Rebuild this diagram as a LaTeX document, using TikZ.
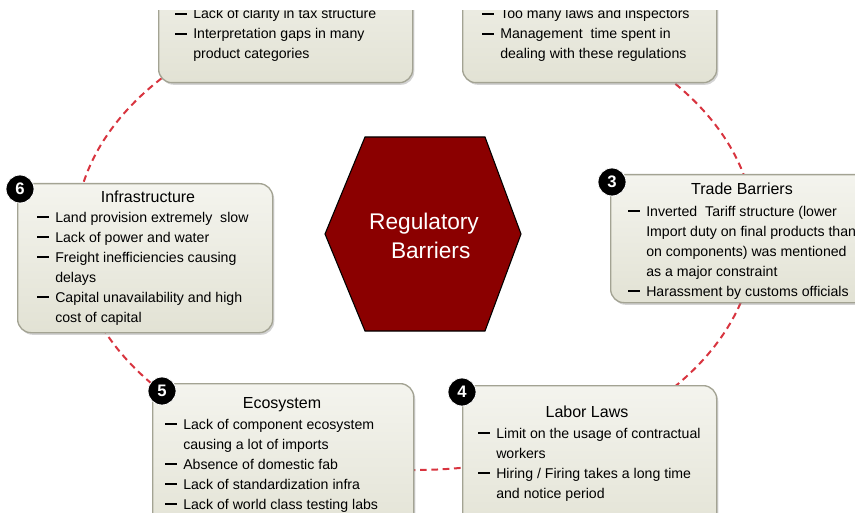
\documentclass[tikz,border=0pt]{standalone}
\usepackage{fontspec}
\setmainfont{Liberation Sans}
\usetikzlibrary{shapes,shadows,positioning,calc}

\definecolor{boxline}{HTML}{A3A393}
\definecolor{boxtop}{HTML}{F4F4EE}
\definecolor{boxbot}{HTML}{E2E2D4}
\definecolor{hubred}{HTML}{8B0000}
\definecolor{ringred}{HTML}{D8343F}

\newcommand{\dashbul}{\rule[2.8pt]{9pt}{1.4pt}}

\tikzset{
  barrier/.style={draw=boxline, line width=1pt, rounded corners=10pt,
    top color=boxtop, bottom color=boxbot, anchor=north west, inner sep=0pt,
    drop shadow={shadow xshift=1.2pt, shadow yshift=-1.6pt, opacity=.35}},
  badge/.style={circle, fill=black, draw=white, line width=.6pt, text=white,
    font=\bfseries\fontsize{12.5}{12}\selectfont, minimum size=21pt, inner sep=0pt},
  heading/.style={anchor=base, inner sep=0pt, font=\fontsize{12}{14}\selectfont},
  points/.style={anchor=base west, inner sep=0pt, font=\fontsize{10.6}{15}\selectfont},
  ring/.style={ellipse, draw=ringred, line width=1.5pt, dash pattern=on 5pt off 3.5pt, inner sep=0pt}
}

\begin{document}
\begin{tikzpicture}[x=0.75pt,y=-0.75pt]
  \useasboundingbox (0,0) rectangle (855,513);
  \clip (0,11) rectangle (855,513);

  % dashed ring behind the boxes
  \node[ring, minimum width=510pt, minimum height=352.5pt] (ringc) at (415,235) {};

  % centre
  \coordinate (h1) at (325,234);
  \coordinate (h2) at (365,137);
  \coordinate (h3) at (485,137);
  \coordinate (h4) at (521,234);
  \coordinate (h5) at (485,331);
  \coordinate (h6) at (365,331);
  \draw[fill=hubred, line width=.8pt] (h1) -- (h2) -- (h3) -- (h4) -- (h5) -- (h6) -- cycle;
  \node[text=white, align=center, font=\fontsize{17}{22}\selectfont] (hub) at (424,236)
    {Regulatory\\\hspace{10pt}Barriers};

  % 1 -- tax
  \node[barrier, minimum width=190.5pt, minimum height=106.5pt] (b1) at (158,-60) {};
  \node[points] (l1) at (175,19) {\begin{tabular}[t]{@{}l@{\hspace{4.5pt}}l@{}}
    \dashbul & Lack of clarity in tax structure\\
    \dashbul & Interpretation gaps in many\\
             & product categories
  \end{tabular}};

  % 2 -- laws
  \node[barrier, minimum width=190.5pt, minimum height=106.5pt] (b2) at (462,-60) {};
  \node[points] (l2) at (482,19) {\begin{tabular}[t]{@{}l@{\hspace{4.5pt}}l@{}}
    \dashbul & Too many laws and inspectors\\
    \dashbul & Management\ \ time spent in\\
             & dealing with these regulations
  \end{tabular}};

  % 3 -- trade
  \node[barrier, minimum width=202.5pt, minimum height=96pt] (b3) at (610,174) {};
  \node[badge] (n3) at (612,182) {3};
  \node[heading] (t3) at (742,195) {Trade Barriers};
  \node[points] (l3) at (628,216) {\begin{tabular}[t]{@{}l@{\hspace{4.5pt}}l@{}}
    \dashbul & Inverted\ \ Tariff structure (lower\\
             & Import duty on final products than\\
             & on components) was mentioned\\
             & as a major constraint\\
    \dashbul & Harassment by customs officials
  \end{tabular}};

  % 4 -- labor
  \node[barrier, minimum width=190.5pt, minimum height=116.25pt] (b4) at (462,385) {};
  \node[badge] (n4) at (462,392) {4};
  \node[heading] (t4) at (587,417) {Labor Laws};
  \node[points] (l4) at (478,438) {\begin{tabular}[t]{@{}l@{\hspace{4.5pt}}l@{}}
    \dashbul & Limit on the usage of contractual\\
             & workers\\
    \dashbul & Hiring / Firing takes a long time\\
             & and notice period
  \end{tabular}};

  % 5 -- ecosystem
  \node[barrier, minimum width=195.75pt, minimum height=117.75pt] (b5) at (152,383) {};
  \node[badge] (n5) at (162,391) {5};
  \node[heading] (t5) at (282,408) {Ecosystem};
  \node[points] (l5) at (165,429) {\begin{tabular}[t]{@{}l@{\hspace{4.5pt}}l@{}}
    \dashbul & Lack of component ecosystem\\
             & causing a lot of imports\\
    \dashbul & Absence of domestic fab\\
    \dashbul & Lack of standardization infra\\
    \dashbul & Lack of world class testing labs
  \end{tabular}};

  % 6 -- infrastructure
  \node[barrier, minimum width=191.25pt, minimum height=111.75pt] (b6) at (17,183) {};
  \node[badge] (n6) at (20,189) {6};
  \node[heading] (t6) at (148,202) {Infrastructure};
  \node[points] (l6) at (37,222) {\begin{tabular}[t]{@{}l@{\hspace{4.5pt}}l@{}}
    \dashbul & Land provision extremely\ \ slow\\
    \dashbul & Lack of power and water\\
    \dashbul & Freight inefficiencies causing\\
             & delays\\
    \dashbul & Capital unavailability and high\\
             & cost of capital
  \end{tabular}};
\end{tikzpicture}
\end{document}
